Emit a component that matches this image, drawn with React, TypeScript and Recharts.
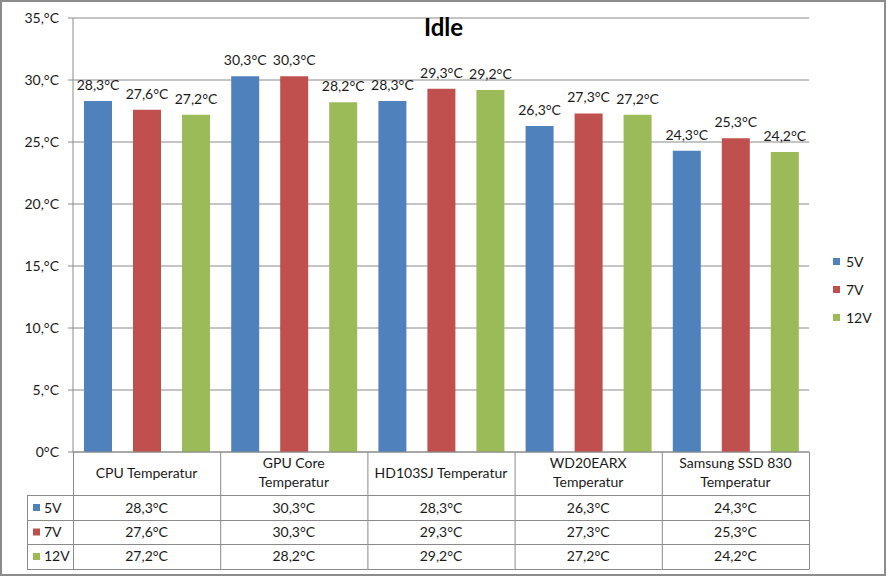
import React from 'react';
import { BarChart, Bar, XAxis, YAxis, CartesianGrid, LabelList, Legend } from 'recharts';

// Categories (sensor names) and the three fan-voltage series, in °C
const CATEGORIES = [
  'CPU Temperatur',
  'GPU Core Temperatur',
  'HD103SJ Temperatur',
  'WD20EARX Temperatur',
  'Samsung SSD 830 Temperatur',
];
const SERIES_NAMES = ['5V', '7V', '12V'];
const VALUES_5V = [28.3, 30.3, 28.3, 26.3, 24.3];
const VALUES_7V = [27.6, 30.3, 29.3, 27.3, 25.3];
const VALUES_12V = [27.2, 28.2, 29.2, 27.2, 24.2];
const Y_TICKS = [0, 5, 10, 15, 20, 25, 30, 35];
const TITLE = 'Idle';

const COLORS = ['#4F81BD', '#C0504D', '#9BBB59'];
const SERIES_VALUES = [VALUES_5V, VALUES_7V, VALUES_12V];

const data = CATEGORIES.map((name, i) => ({
  name,
  v5: VALUES_5V[i],
  v7: VALUES_7V[i],
  v12: VALUES_12V[i],
}));
const SERIES_KEYS = ['v5', 'v7', 'v12'];

// layout
const W = 887;
const H = 577;
const Y_AXIS_W = 73;
const MARGIN = { top: 18, right: 78, bottom: 0, left: 0 };
const PLOT_W = W - Y_AXIS_W - MARGIN.right - MARGIN.left;
const BAND = PLOT_W / CATEGORIES.length;
const ROW_LABEL_LEFT = 27;

const FONT = 'Lato, "Liberation Sans", sans-serif';
const TEXT = '#1a1a1a';
const LINE = '#8a8a8a';

const fmt = (v: number) => v.toFixed(1).replace('.', ',') + '°C';

const wrapLabel = (s: string): string[] => {
  if (s.length <= 18) return [s];
  const k = s.lastIndexOf(' ');
  return [s.slice(0, k), s.slice(k + 1)];
};

// Data-table cell rendered under each category of the x axis
const TableTick = (props: any) => {
  const { x, y, payload, index } = props;
  const hw = BAND / 2;
  const left = x - hw;
  const right = x + hw;
  const lines = wrapLabel(String(payload.value));
  const rowLines = [43, 68, 92, 117];
  const rowBaselines = [61, 85, 109];
  const tStyle = { fontFamily: FONT, fontSize: 14, fill: TEXT };
  const lineStart = index === 0 ? ROW_LABEL_LEFT : left;
  return (
    <g>
      {lines.length === 1 ? (
        <text x={x} y={y + 26} textAnchor="middle" {...tStyle}>{lines[0]}</text>
      ) : (
        lines.map((l, i) => (
          <text key={i} x={x} y={y + 16 + i * 19} textAnchor="middle" {...tStyle}>{l}</text>
        ))
      )}
      {rowLines.map((dy, i) => (
        <line key={'h' + i} x1={lineStart} x2={right} y1={y + dy + 0.5} y2={y + dy + 0.5} stroke={LINE} strokeWidth={1} />
      ))}
      <line x1={right + 0.5} x2={right + 0.5} y1={y} y2={y + 117.5} stroke={LINE} strokeWidth={1} />
      {index === 0 && (
        <g>
          <line x1={left + 0.5} x2={left + 0.5} y1={y} y2={y + 117.5} stroke={LINE} strokeWidth={1} />
          <line x1={ROW_LABEL_LEFT + 0.5} x2={ROW_LABEL_LEFT + 0.5} y1={y + 43} y2={y + 117.5} stroke={LINE} strokeWidth={1} />
          {SERIES_NAMES.map((n, i) => (
            <g key={n}>
              <rect x={ROW_LABEL_LEFT + 6} y={y + 52 + i * 24.5} width={7} height={7} fill={COLORS[i]} />
              <text x={ROW_LABEL_LEFT + 17} y={y + rowBaselines[i]} {...tStyle}>{n}</text>
            </g>
          ))}
        </g>
      )}
      {SERIES_VALUES.map((vals, i) => (
        <text key={'v' + i} x={x} y={y + rowBaselines[i]} textAnchor="middle" {...tStyle}>
          {fmt(vals[index])}
        </text>
      ))}
    </g>
  );
};

const BarValueLabel = (props: any) => {
  const { x, y, width, value } = props;
  return (
    <text x={x + width / 2} y={y - 11} textAnchor="middle" fontFamily={FONT} fontSize={14} fill={TEXT}>
      {fmt(Number(value))}
    </text>
  );
};

// Legend entries kept in series order (5V, 7V, 12V)
const SideLegend = (props: any) => {
  const items = [...(props.payload || [])].sort(
    (a: any, b: any) => SERIES_NAMES.indexOf(a.value) - SERIES_NAMES.indexOf(b.value)
  );
  return (
    <div style={{ fontFamily: FONT, fontSize: 14, color: TEXT }}>
      {items.map((p: any) => (
        <div key={p.value} style={{ display: 'flex', alignItems: 'center', height: 28 }}>
          <span style={{ display: 'inline-block', width: 7, height: 7, background: p.color, marginRight: 6 }} />
          <span>{p.value}</span>
        </div>
      ))}
    </div>
  );
};

export default function App() {
  return (
    <div style={{ position: 'absolute', left: 0, top: 0, width: W, height: H, background: '#fff' }}>
      <BarChart
        width={W}
        height={H}
        data={data}
        margin={MARGIN}
        barSize={28}
        barGap={21}
      >
        <CartesianGrid vertical={false} stroke={LINE} strokeDasharray="" />
        <XAxis
          dataKey="name"
          interval={0}
          height={H - 452}
          tickSize={0}
          tickMargin={0}
          tickLine={false}
          axisLine={{ stroke: LINE }}
          tick={<TableTick />}
        />
        <YAxis
          width={Y_AXIS_W}
          domain={[0, 35]}
          ticks={Y_TICKS}
          interval={0}
          tickSize={5}
          tickMargin={9}
          tickLine={{ stroke: LINE }}
          axisLine={{ stroke: LINE }}
          tick={{ fontFamily: FONT, fontSize: 14, fill: TEXT }}
          tickFormatter={(v: number) => (v === 0 ? '0°C' : `${v},°C`)}
        />
        <Legend
          layout="vertical"
          align="center"
          verticalAlign="middle"
          content={<SideLegend />}
          wrapperStyle={{ left: 833, top: 247, width: 50, height: 90 }}
        />
        {SERIES_KEYS.map((k, i) => (
          <Bar key={k} dataKey={k} name={SERIES_NAMES[i]} fill={COLORS[i]} isAnimationActive={false}>
            <LabelList dataKey={k} content={<BarValueLabel />} />
          </Bar>
        ))}
      </BarChart>
      <div
        style={{
          position: 'absolute',
          left: 0,
          top: 0,
          width: 887,
          height: 577,
          fontFamily: FONT,
          pointerEvents: 'none',
        }}
      >
        <div
          style={{
            position: 'absolute',
            left: 0,
            top: 0,
            width: 886,
            height: 576,
            border: '2px solid #8c8c8c',
            boxSizing: 'border-box',
          }}
        />
        <div
          style={{
            position: 'absolute',
            left: 0,
            width: 887,
            top: 12,
            textAlign: 'center',
            fontSize: 24,
            fontWeight: 700,
            color: '#000',
            lineHeight: '30px',
          }}
        >
          {TITLE}
        </div>
      </div>
    </div>
  );
}
